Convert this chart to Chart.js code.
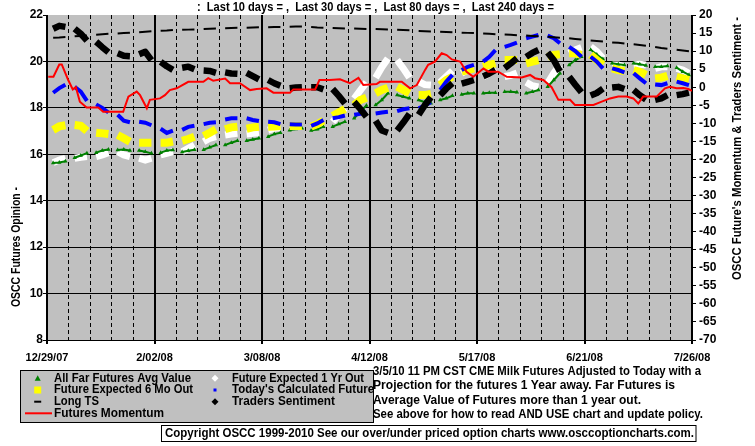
<!DOCTYPE html>
<html><head><meta charset="utf-8">
<script src="https://cdn.jsdelivr.net/npm/chart.js"></script>
<style>html,body{margin:0;padding:0;background:#fff;overflow:hidden}#wrap{position:relative;width:755px;height:446px}</style>
</head><body><div id="wrap"><canvas id="c" width="755" height="446"></canvas></div>
<script>
// x tick labels (every 35 days from 12/29/07)
const dateLabels = ['12/29/07','2/02/08','3/08/08','4/12/08','5/17/08','6/21/08','7/26/08'];
// sampled trading days (Mon, Wed, Fri of each week), days since 12/29/07
const sampleDays = [2,4,6, 9,11,13, 16,18,20, 23,25,27, 30,32,34, 37,39,41, 44,46,48, 51,53,55, 58,60,62, 65,67,69,
  72,74,76, 79,81,83, 86,88,90, 93,95,97, 100,102,104, 107,109,111, 114,116,118, 121,123,125, 128,130,132, 135,137,139,
  142,144,146, 149,151,153, 156,158,160, 163,165,167, 170,172,174, 177,179,181, 184,186,188, 191,193,195, 198,200,202, 205,207,209];

const todaysCalculated = [18.65,18.85,19.0, 18.9,18.7,18.3, 18.15,18.0,17.8, 17.7,17.45,17.38, 17.4,17.36,17.25, 17.1,16.92,17.02,
  17.05,17.18,17.23, 17.3,17.36,17.38, 17.5,17.55,17.55, 17.55,17.48,17.43, 17.4,17.38,17.3, 17.29,17.28,17.28,
  17.22,17.33,17.48, 17.55,17.6,17.67, 17.7,17.74,17.8, 17.76,17.8,17.83, 17.86,17.94,17.98, 17.98,18.1,18.24,
  18.77,19.13,19.42, 19.63,19.77,19.85, 19.99,20.2,20.49, 20.63,20.71,20.81, 21.0,21.07,21.14, 21.11,21.0,20.78,
  20.63,20.45,20.2, 20.2,19.99,19.7, 19.7,19.63,19.53, 19.49,19.27,19.06, 19.01,18.98,19.06, 19.13,19.06,18.98];

const expected6Mo = [17.05,17.2,17.25, 17.26,17.23,17.0, 16.93,16.9,16.87, 16.83,16.69,16.54, 16.5,16.5,16.5, 16.5,16.5,16.55,
  16.58,16.66,16.76, 16.79,16.93,17.08, 17.08,17.16,17.19, 17.1,17.16,17.19, 17.19,17.2,17.22, 17.22,17.22,17.22,
  17.19,17.3,17.45, 17.65,17.8,17.95, 18.12,18.34,18.44, 18.63,18.77,18.87, 18.91,18.77,18.63, 18.55,18.55,18.6,
  18.98,19.2,19.34, 19.56,19.63,19.7, 19.77,19.85,19.92, 20.06,20.06,20.06, 19.92,19.99,20.06, 20.2,20.28,20.31,
  20.35,20.35,20.28, 20.28,20.06,19.85, 19.7,19.63,19.59, 19.63,19.56,19.42, 19.27,19.3,19.38, 19.34,19.27,19.2];

const expected1Yr = [15.64,15.75,15.83, 15.83,15.87,15.9, 15.9,15.97,16.07, 16.11,15.97,15.9, 15.83,15.75,15.83, 15.97,16.04,16.11,
  16.11,16.26,16.4, 16.54,16.69,16.76, 16.83,16.87,16.9, 16.87,16.9,16.93, 17.04,17.12,17.16, 17.19,17.2,17.22,
  17.16,17.26,17.36, 17.4,17.7,17.98, 18.4,18.75,19.1, 19.3,19.75,20.13, 20.06,19.7,19.3, 19.13,19.0,18.98,
  19.1,19.35,19.6, 19.49,19.63,19.7, 19.34,19.49,19.7, 19.35,19.4,19.5, 19.1,18.95,18.9, 19.06,19.49,19.85,
  20.35,20.5,20.6, 20.63,20.42,20.13, 19.85,19.85,19.77, 19.85,19.88,19.85, 19.7,19.77,19.77, 19.7,19.63,19.49];

const allFarAvg = [15.62,15.65,15.7, 15.85,15.95,16.05, 16.07,16.16,16.21, 16.18,16.21,16.16, 16.16,16.11,16.04, 16.07,16.16,16.18,
  16.1,16.15,16.2, 16.2,16.3,16.4, 16.4,16.5,16.58, 16.58,16.64,16.69, 16.76,16.87,16.93, 17.04,17.09,17.12,
  17.02,17.08,17.19, 17.19,17.3,17.4, 17.55,17.83,18.1, 18.12,18.34,18.63, 18.55,18.48,18.41, 18.34,18.24,18.2,
  18.34,18.41,18.52, 18.58,18.63,18.63, 18.63,18.65,18.65, 18.69,18.69,18.67, 18.63,18.69,18.77, 18.91,19.2,19.49,
  19.85,20.06,20.2, 20.5,20.3,20.1, 19.92,19.88,19.85, 19.92,19.88,19.83, 19.77,19.77,19.8, 19.73,19.56,19.42];

const longTS = [21.02,21.03,21.05, 21.08,21.1,21.12, 21.15,21.17,21.19, 21.2,21.22,21.24, 21.26,21.28,21.3, 21.32,21.33,21.35,
  21.36,21.37,21.38, 21.4,21.41,21.42, 21.43,21.44,21.45, 21.45,21.46,21.47, 21.47,21.48,21.48, 21.49,21.5,21.5,
  21.48,21.46,21.45, 21.44,21.43,21.42, 21.42,21.41,21.4, 21.4,21.39,21.38, 21.36,21.35,21.34, 21.31,21.3,21.29,
  21.28,21.27,21.26, 21.24,21.23,21.22, 21.2,21.19,21.17, 21.16,21.15,21.13, 21.12,21.1,21.08, 21.06,21.04,21.02,
  21.0,20.97,20.94, 20.9,20.88,20.86, 20.82,20.8,20.77, 20.74,20.71,20.68, 20.62,20.58,20.55, 20.5,20.47,20.44];

// right axis series
const tradersSentiment = [16.2,17.0,16.7, 16.2,14.8,12.9, 12.6,11.1,9.7, 9.4,8.7,8.6, 9.1,9.8,7.5, 7.0,5.8,4.8,
  5.4,5.7,5.0, 4.6,4.5,4.0, 4.1,3.8,3.7, 4.0,3.1,2.2, 2.0,1.1,0.4, -0.3,-0.1,0.0,
  0.0,0.0,-0.6, -0.5,-2.4,-4.5, -4.1,-6.0,-8.2, -9.3,-12.0,-12.6, -12.0,-9.8,-7.4, -7.6,-5.0,-2.8,
  -2.2,-0.4,1.1, 1.0,1.5,2.0, 3.0,3.8,4.8, 5.3,6.6,8.0, 8.4,9.5,10.3, 9.6,7.5,4.4,
  2.9,0.7,-1.4, -2.3,-1.6,-0.4, -0.1,0.1,-0.5, -0.8,-2.2,-3.4, -3.5,-3.1,-2.2, -2.2,-1.9,-1.5];

const momentumDays = [0.4,2.1,4.0,4.8,6.9,8.4,9.4,10.7,12.9,16.7,18.3,24.8,26.5,29.2,30.3,32.5,33.5,36.8,38.4,40.0,42.2,46.0,50.9,52.5,54.1,
  58.0,59.6,62.8,66.1,68.3,71.5,73.7,79.1,80.2,87.3,88.7,92.1,95.4,98.6,101.4,103.0,107.3,108.4,115.5,118.2,120.4,123.1,124.1,126.3,128.5,
  130.1,131.8,134.5,136.6,138.8,142.1,143.7,146.9,149.7,154.6,157.3,158.9,161.6,164.3,166.5,170.3,171.9,177.9,180.0,183.3,186.0,188.7,
  190.9,192.5,194.1,198.5,201.2,202.8,205.0,207.2,208.8,210];
const momentumValues = [2.9,2.9,6.3,6.3,2.0,-0.6,0.0,-4.0,-5.6,-5.6,-6.8,-6.8,-2.6,-1.2,-2.2,-5.8,-3.5,-3.1,-2.2,-0.8,-0.3,1.5,1.5,2.5,1.8,
  2.4,1.1,1.1,-0.8,-0.5,-0.3,-1.5,-1.5,-0.6,-0.6,2.0,2.0,2.2,1.1,2.6,0.6,0.9,1.5,1.5,-0.3,0.6,4.8,6.2,7.1,9.4,
  8.9,7.7,7.1,4.3,2.9,5.2,4.3,4.3,2.9,2.7,3.4,2.5,2.0,0.0,-3.5,-3.5,-4.9,-4.9,-4.2,-3.1,-2.6,-2.6,
  -3.1,-4.5,-2.6,-2.6,-0.3,0.1,-0.3,-0.2,-0.5,-1.0];

const titleText = ':  Last 10 days = ,  Last 30 days = ,  Last 80 days = ,  Last 240 days =';
const leftTitle = 'OSCC Futures Opinion -';
const rightTitle = "OSCC Future's Momentum & Traders Sentiment -";
const legendItems = [
  ['All Far Futures Avg Value','tri'], ['Future Expected 6 Mo Out','ysq'], ['Long TS','dash'], ['Futures Momentum','red'],
  ['Future Expected 1 Yr Out','wdia'], ["Today's Calculated Future",'bsq'], ['Traders Sentiment','bdia']
];
const noteLines = ['3/5/10 11 PM CST CME Milk Futures Adjusted to Today with a',
  'Projection for the futures 1 Year away. Far Futures is',
  'Average Value of Futures more than 1 year out.',
  'See above for how to read AND USE chart and update policy.'];
const copyrightText = 'Copyright OSCC 1999-2010 See our over/under priced option charts www.osccoptioncharts.com.';

function weekly(values){
  const pts = [];
  values.forEach((v,i)=>{ pts.push({x:sampleDays[i], y:v}); if(i%3===2) pts.push({x:sampleDays[i]+1, y:null}); });
  return pts;
}
const FONT = '"Liberation Sans", Arial, sans-serif';
const fontAt = px => 'bold ' + px + 'px ' + FONT;

function fitText(ctx, text, x, y, width){
  // draw text horizontally scaled to the measured width of the reference
  const w = ctx.measureText(text).width;
  ctx.save(); ctx.translate(x, y); ctx.scale(width/w, 1); ctx.fillText(text, 0, 0); ctx.restore();
}

const deco = {
  id:'deco',
  beforeDraw(chart){
    const {ctx, chartArea:a} = chart;
    ctx.save();
    ctx.fillStyle='#fff'; ctx.fillRect(0,0,chart.width,chart.height);
    ctx.fillStyle='#C0C0C0'; ctx.fillRect(a.left,a.top,a.right-a.left,a.bottom-a.top);
    ctx.restore();
  },
  afterDraw(chart){
    const ctx = chart.ctx;
    ctx.save();
    ctx.fillStyle='#000'; ctx.font=fontAt(12); ctx.textBaseline='middle';
    ctx.textAlign='left';
    fitText(ctx, titleText, 197, 8, 357);
    // axis titles
    ctx.save(); ctx.translate(16.5, 307); ctx.rotate(-Math.PI/2); fitText(ctx, leftTitle, 0, 0, 120); ctx.restore();
    ctx.save(); ctx.translate(738, 280); ctx.rotate(-Math.PI/2); fitText(ctx, rightTitle, 0, 0, 263); ctx.restore();
    // notes
    const noteW = [328, 302, 268, 330];
    noteLines.forEach((t,i)=>fitText(ctx, t, 373, 371.7 + i*14.4, noteW[i]));
    // legend box
    ctx.fillStyle='#C0C0C0'; ctx.fillRect(20.5,370.5,353,52);
    ctx.strokeStyle='#000'; ctx.lineWidth=1; ctx.strokeRect(20.5,370.5,353,52);
    const rows=[378.3,390,401.7,413.3];
    const legW = [137, 139, 45, 110, 132, 142, 103];
    legendItems.forEach((it,i)=>{
      const col = i<4?0:1, row = i<4?i:i-4;
      const mx = col===0?37.7:215, tx = col===0?54:232, y=rows[row];
      ctx.fillStyle='#000'; fitText(ctx, it[0], tx, y, legW[i]);
      if(it[1]==='tri'){ctx.fillStyle='#008000';ctx.beginPath();ctx.moveTo(mx,y-3);ctx.lineTo(mx-3,y+2.5);ctx.lineTo(mx+3,y+2.5);ctx.closePath();ctx.fill();}
      if(it[1]==='ysq'){ctx.fillStyle='#FFFF00';ctx.fillRect(mx-3.5,y-3.5,7,7);}
      if(it[1]==='dash'){ctx.fillStyle='#000';ctx.fillRect(mx-3.5,y-1,7,2);}
      if(it[1]==='red'){ctx.strokeStyle='#FF0000';ctx.lineWidth=2;ctx.beginPath();ctx.moveTo(25,y);ctx.lineTo(52,y);ctx.stroke();}
      if(it[1]==='wdia'||it[1]==='bdia'){ctx.fillStyle=it[1]==='wdia'?'#fff':'#000';ctx.beginPath();ctx.moveTo(mx,y-3.5);ctx.lineTo(mx+3.5,y);ctx.lineTo(mx,y+3.5);ctx.lineTo(mx-3.5,y);ctx.closePath();ctx.fill();}
      if(it[1]==='bsq'){ctx.fillStyle='#0000FF';ctx.fillRect(mx-1.5,y-1.5,3,3);}
    });
    // copyright box
    ctx.fillStyle='#fff'; ctx.fillRect(161.5,425.5,534.5,16);
    ctx.strokeStyle='#000'; ctx.lineWidth=1; ctx.strokeRect(161.5,425.5,534.5,16);
    ctx.fillStyle='#000'; fitText(ctx, copyrightText, 165, 433.5, 529);
    ctx.restore();
  }
};

const isMajor = v => Math.round(v)%35===0;
new Chart(document.getElementById('c'), {
  type:'line',
  data:{datasets:[
    {label:'Futures Momentum', data:momentumDays.map((d,i)=>({x:d,y:momentumValues[i]})), yAxisID:'y2', borderColor:'#FF0000', borderWidth:2, pointRadius:0},
    {label:'Traders Sentiment', data:weekly(tradersSentiment), yAxisID:'y2', borderColor:'#000', borderWidth:6.5, borderJoinStyle:'round', pointRadius:0},
    {label:'Long TS', data:weekly(longTS), yAxisID:'y', borderColor:'#000', borderWidth:2, pointRadius:0},
    {label:"Today's Calculated Future", data:weekly(todaysCalculated), yAxisID:'y', borderColor:'#0000FF', borderWidth:4, pointRadius:0},
    {label:'Future Expected 6 Mo Out', data:weekly(expected6Mo), yAxisID:'y', borderColor:'#FFFF00', borderWidth:8, pointRadius:0},
    {label:'All Far Futures Avg Value', data:weekly(allFarAvg), yAxisID:'y', borderColor:'#008000', borderWidth:2, pointStyle:'triangle', pointRadius:2.5, pointBackgroundColor:'#008000', pointBorderWidth:0},
    {label:'Future Expected 1 Yr Out', data:weekly(expected1Yr), yAxisID:'y', borderColor:'#FFFFFF', borderWidth:7, pointRadius:0}
  ]},
  options:{
    responsive:false, animation:false, devicePixelRatio:1, spanGaps:false,
    layout:{padding:{left:0,right:0,top:15,bottom:76}},
    plugins:{legend:{display:false}, tooltip:{enabled:false}},
    scales:{
      x:{type:'linear', min:0, max:210,
        afterFit:s=>{s.height=30;},
        afterBuildTicks:s=>{const t=[];for(let v=0;v<=210;v+=7)t.push({value:v});s.ticks=t;},
        ticks:{autoSkip:false, maxRotation:0, padding:7, color:'#000', font:{family:FONT, size:11, weight:'bold'},
          callback:v=>isMajor(v)?dateLabels[Math.round(v)/35]:''},
        grid:{color:'#000', lineWidth:c=>c.tick&&isMajor(c.tick.value)?2:1, tickLength:4,
          tickColor:c=>c.tick&&isMajor(c.tick.value)?'#000':'rgba(0,0,0,0)'},
        border:{color:'#000', width:1, dash:c=>(c.tick&&!isMajor(c.tick.value))?[4,3]:[]}
      },
      y:{position:'left', min:8, max:22,
        afterFit:s=>{s.width=47;},
        ticks:{stepSize:2, padding:0, color:'#000', font:{family:FONT, size:12, weight:'bold'}},
        grid:{color:c=>c.tick&&c.tick.value===22?'rgba(0,0,0,0)':'#000', tickColor:'#000', lineWidth:1, tickLength:4},
        border:{color:'#000', width:1}
      },
      y2:{position:'right', min:-70, max:20,
        afterFit:s=>{s.width=63;},
        ticks:{stepSize:5, padding:3, color:'#000', font:{family:FONT, size:12, weight:'bold'}},
        grid:{drawOnChartArea:false, color:'#000', tickLength:4},
        border:{color:'#000', width:1}
      }
    }
  },
  plugins:[deco]
});
</script></body></html>
